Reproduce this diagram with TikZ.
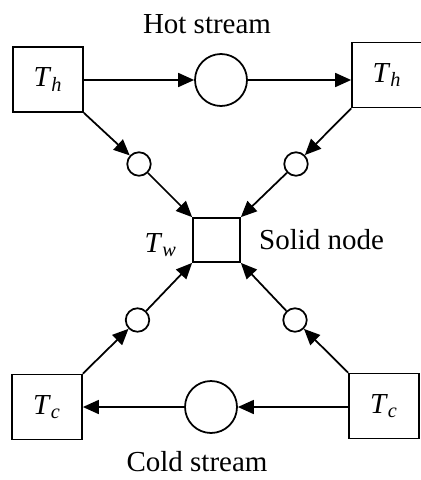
\documentclass[tikz,border=0pt]{standalone}
\usepackage{fontspec}
\setmainfont{Liberation Serif}
\usepackage{tikz}
\usetikzlibrary{positioning, arrows.meta}
\newcommand{\temp}[1]{\textit{T}\textsubscript{\textit{#1}}}
\tikzstyle{arrow} = [line width=1pt, -{Triangle[length=3.2mm, width=2.8mm]}]

\begin{document}
\begin{tikzpicture}[x=0.02cm, y=-0.02cm, font=\fontsize{16.5}{20}\selectfont,
    tbox/.style={rectangle, draw, line width=1pt, minimum width=1.4cm, minimum height=1.3cm, inner sep=0pt},
    streamcirc/.style={circle, draw, line width=1pt, minimum size=1.04cm, inner sep=0pt},
    linkcirc/.style={circle, draw, line width=1pt, minimum size=0.47cm, inner sep=0pt},
    wallbox/.style={rectangle, draw, line width=1pt, minimum width=0.94cm, minimum height=0.88cm, inner sep=0pt},
    label/.style={inner sep=0pt}]
    \useasboundingbox (0,0) rectangle (421,480);

    % Hot stream (top row)
    \node[tbox] (hotin) at (48,79.5) {\temp{h}};
    \node[streamcirc] (hot) at (221,80) {};
    \node[tbox] (hotout) at (387,75) {\temp{h}};

    % Cold stream (bottom row)
    \node[tbox] (coldout) at (47,407) {\temp{c}};
    \node[streamcirc] (cold) at (211,407) {};
    \node[tbox] (coldin) at (384,406) {\temp{c}};

    % Solid node and links
    \node[wallbox] (wall) at (216.5,240) {};
    \node[linkcirc] (hl) at (139,164) {};
    \node[linkcirc] (hr) at (296,164) {};
    \node[linkcirc] (cl) at (137.5,320) {};
    \node[linkcirc] (cr) at (295,320) {};

    % Labels
    \node[label] at (207,24) {Hot stream};
    \node[label] at (197,462) {Cold stream};
    \node[label, left=0.3cm of wall, yshift=-3pt] {\temp{w}};
    \node[label, right=0.36cm of wall] {Solid node};

    % Arrows - streams
    \draw[arrow] (hotin.east |- hot) -- (hot);
    \draw[arrow] (hot) -- (hotout.west |- hot);
    \draw[arrow] (coldin.west |- cold) -- (cold);
    \draw[arrow] (cold) -- (coldout.east |- cold);

    % Arrows - to the solid node
    \draw[arrow] (hotin.south east) -- (hl);
    \draw[arrow] (hl) -- (wall.north west);
    \draw[arrow] (hotout.south west) -- (hr);
    \draw[arrow] (hr) -- (wall.north east);
    \draw[arrow] (coldout.north east) -- (cl);
    \draw[arrow] (cl) -- (wall.south west);
    \draw[arrow] (coldin.north west) -- (cr);
    \draw[arrow] (cr) -- (wall.south east);

\end{tikzpicture}
\end{document}
